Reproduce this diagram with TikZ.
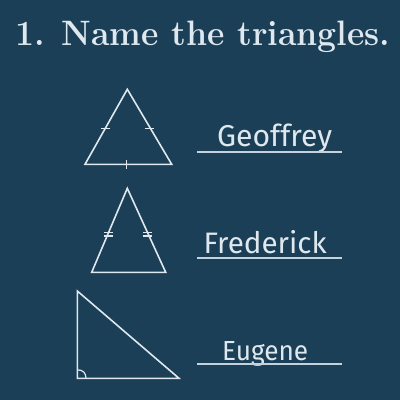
\documentclass[tikz,border=0pt]{standalone}
\usepackage{fontspec}
\newfontfamily\handfont{Fira Sans}
\definecolor{board}{RGB}{27,63,86}
\definecolor{chalk}{RGB}{222,232,238}
\definecolor{chalkline}{RGB}{196,210,222}
\begin{document}
\begin{tikzpicture}[x=1pt,y=-1pt,
  shape line/.style={draw=chalk,line width=1.6pt,line join=miter},
  tickmark/.style={draw=chalk,line width=1.2pt},
  underline/.style={draw=chalkline,line width=2pt},
  title/.style={text=chalk,inner sep=0pt,anchor=base west,font=\fontsize{35}{40}\selectfont\bfseries},
  hand/.style={text=chalk,inner sep=0pt,anchor=base west,font=\handfont\fontsize{25}{30}\selectfont}]
\fill[board] (0,0) rectangle (400,400);
\useasboundingbox (0,0) rectangle (400,400);

\node[title] (t) at (15,45) {\resizebox{375pt}{24.5pt}{1. Name the triangles.}};

% triangle 1
\coordinate (a1) at (127.3,89.3);
\coordinate (b1) at (85,164.3);
\coordinate (c1) at (171.7,164.3);
\draw[shape line] (a1) -- (b1) -- (c1) -- cycle;
\draw[tickmark] (101,128.3) -- (110,128.3);
\draw[tickmark] (144.5,128.3) -- (153.5,128.3);
\draw[tickmark] (126.7,159.5) -- (126.7,169);

% triangle 2
\coordinate (a2) at (127.3,188.3);
\coordinate (b2) at (91.7,272.3);
\coordinate (c2) at (165.7,272.3);
\draw[shape line] (a2) -- (b2) -- (c2) -- cycle;
\draw[tickmark] (104,232.8) -- (112.5,232.8) (104,236) -- (112.5,236);
\draw[tickmark] (143,232.8) -- (151.5,232.8) (143,236) -- (151.5,236);

% triangle 3
\coordinate (a3) at (77.3,291);
\coordinate (b3) at (77.3,378.3);
\coordinate (c3) at (179,378.3);
\draw[shape line] (a3) -- (b3) -- (c3) -- cycle;
\draw[tickmark] (86,378.3) .. controls (86,373) and (83,369.8) .. (77.3,369.8);

% names
\node[hand] (n1) at (217,146.7) {\resizebox{115pt}{!}{Geoffrey}};
\coordinate (u1s) at (197.3,151.7);
\coordinate (u1e) at (341.7,151.7);
\draw[underline] (u1s) -- (u1e);

\node[hand] (n2) at (203.5,253.3) {\resizebox{123pt}{!}{Frederick}};
\coordinate (u2s) at (197.3,258.3);
\coordinate (u2e) at (341.7,258.3);
\draw[underline] (u2s) -- (u2e);

\node[hand] (n3) at (222,360) {\resizebox{86pt}{19pt}{Eugene}};
\coordinate (u3s) at (197.3,364);
\coordinate (u3e) at (341.7,364);
\draw[underline] (u3s) -- (u3e);
\end{tikzpicture}
\end{document}
